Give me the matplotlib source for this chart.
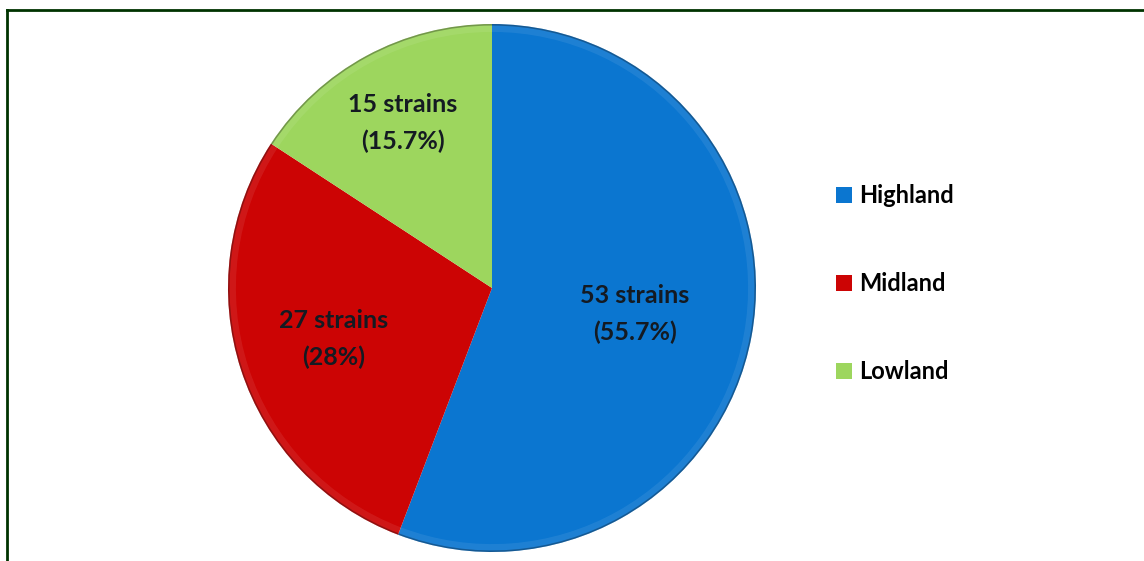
import matplotlib.pyplot as plt
import numpy as np
from matplotlib.lines import Line2D
from matplotlib.patches import Wedge

# strain counts per altitude zone
zones = ['Highland', 'Midland', 'Lowland']
strains = [53, 27, 15]
pct_labels = ['55.7%', '28%', '15.7%']
colors = ['#0B76D0', '#CC0404', '#9DD65E']

plt.rcParams['font.family'] = ['Lato', 'DejaVu Sans']

fig = plt.figure(figsize=(11.44, 5.61), dpi=100)
W, H = 1144, 561

# pie centre / radius in pixels
cx, cy, r = 492, 288, 264
ax = fig.add_axes([(cx - r) / W, (H - cy - r) / H, 2 * r / W, 2 * r / H])

wedges, _ = ax.pie(strains, colors=colors, startangle=90, counterclock=False,
                   radius=1, wedgeprops=dict(edgecolor='none'))

# soft bevel band and darker rim along the outside
for w in wedges:
    ax.add_patch(Wedge((0, 0), 1.0, w.theta1, w.theta2, width=0.03,
                       facecolor='white', alpha=0.08, edgecolor='none'))
    ax.add_patch(Wedge((0, 0), 1.0, w.theta1, w.theta2, width=0.006,
                       facecolor='black', alpha=0.3, edgecolor='none'))

label_dist = [0.55, 0.63, 0.71]
for w, n, p, d in zip(wedges, strains, pct_labels, label_dist):
    ang = np.deg2rad((w.theta1 + w.theta2) / 2)
    ax.text(d * np.cos(ang), d * np.sin(ang), f'{n} strains\n({p})',
            ha='center', va='center', fontsize=18, fontweight='bold',
            color='#141a22', linespacing=1.7)

ax.set_xlim(-1, 1)
ax.set_ylim(-1, 1)
ax.set_aspect('equal')
ax.axis('off')

fig.legend(wedges, zones, loc='upper left', bbox_to_anchor=(815 / W, 1 - 163 / H),
           frameon=False, labelspacing=2.75, handlelength=0.65,
           handleheight=0.65, handletextpad=0.3,
           prop=dict(family='Lato', weight='bold', size=17))

# dark green frame along top and left
fig.add_artist(Line2D([7 / W, 1], [1 - 10 / H, 1 - 10 / H], color='#003300', lw=2))
fig.add_artist(Line2D([7 / W, 7 / W], [0, 1 - 10 / H], color='#003300', lw=2))

fig.savefig('out.png', dpi=100)
